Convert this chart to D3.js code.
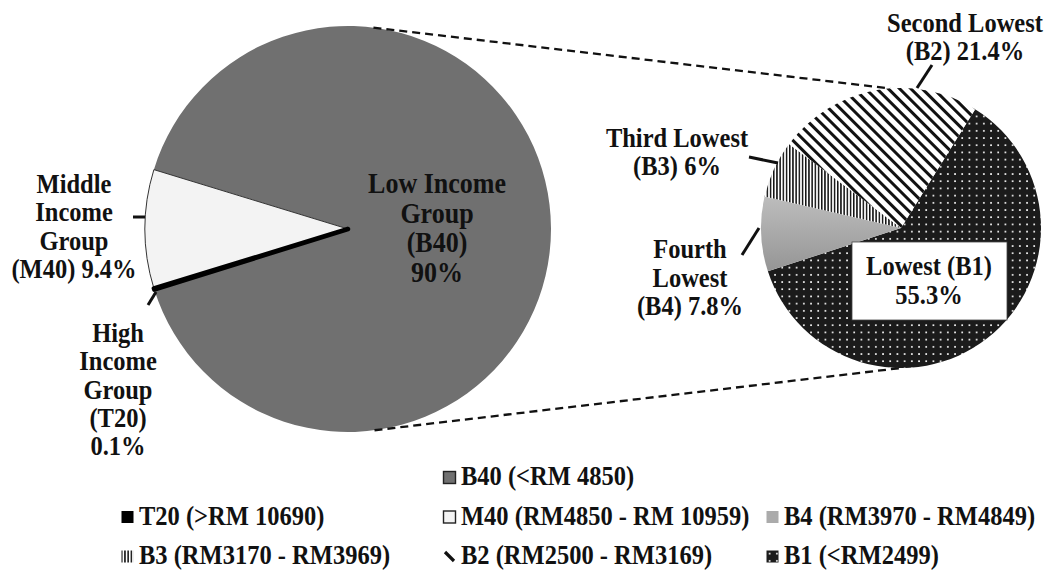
<!DOCTYPE html>
<html><head><meta charset="utf-8">
<script src="https://cdn.jsdelivr.net/npm/d3@7"></script>
<style>
body{margin:0;background:#fff}
svg{display:block}
text{font-family:"Liberation Serif","Times New Roman",serif;font-weight:bold;fill:#111;font-size:24.5px}
</style>
</head><body><svg id="c" width="1049" height="570"></svg>
<script>
// ---------- data ----------
const mainCategories = ["B40", "T20", "M40"];
const mainValues = [90, 0.1, 9.4];
const mainLabels = [["Low Income", "Group", "(B40)", "90%"],
                    ["High", "Income", "Group", "(T20)", "0.1%"],
                    ["Middle", "Income", "Group", "(M40) 9.4%"]];
const subCategories = ["B1", "B4", "B3", "B2"];
const subValues = [55.3, 7.8, 6, 21.4];
const subLabels = [["Lowest (B1)", "55.3%"],
                   ["Fourth", "Lowest", "(B4) 7.8%"],
                   ["Third Lowest", "(B3) 6%"],
                   ["Second Lowest", "(B2) 21.4%"]];
const legendKeys = ["B40", "T20", "M40", "B4", "B3", "B2", "B1"];
const legendTexts = ["B40 (<RM 4850)", "T20 (>RM 10690)", "M40 (RM4850 - RM 10959)",
                     "B4 (RM3970 - RM4849)", "B3 (RM3170 - RM3969)", "B2 (RM2500 - RM3169)", "B1 (<RM2499)"];

// ---------- layout ----------
const svg = d3.select("#c");
const deg = Math.PI / 180;
const L = {cx: 348, cy: 229, r: 203};
const R = {cx: 901, cy: 228, r: 140};

const defs = svg.append("defs");
const p1 = defs.append("pattern").attr("id", "pB1").attr("patternUnits", "userSpaceOnUse")
  .attr("width", 7.2).attr("height", 7.2);
p1.append("rect").attr("width", 7.2).attr("height", 7.2).attr("fill", "#1b1b1b");
p1.append("rect").attr("x", 2.8).attr("y", 2.8).attr("width", 1.7).attr("height", 1.7).attr("fill", "#f4f4f4");
const p2 = defs.append("pattern").attr("id", "pB2").attr("patternUnits", "userSpaceOnUse")
  .attr("width", 8).attr("height", 8).attr("patternTransform", "rotate(-45)");
p2.append("rect").attr("width", 8).attr("height", 8).attr("fill", "#fff");
p2.append("rect").attr("width", 3).attr("height", 8).attr("fill", "#111");
const p3 = defs.append("pattern").attr("id", "pB3").attr("patternUnits", "userSpaceOnUse")
  .attr("width", 3.2).attr("height", 10);
p3.append("rect").attr("width", 3.2).attr("height", 10).attr("fill", "#fff");
p3.append("rect").attr("width", 1.5).attr("height", 10).attr("fill", "#111");
const gr = defs.append("linearGradient").attr("id", "gB4").attr("x1", 0).attr("y1", 0).attr("x2", 0).attr("y2", 1);
gr.append("stop").attr("offset", "0%").attr("stop-color", "#bdbdbd");
gr.append("stop").attr("offset", "100%").attr("stop-color", "#959595");

const fills = {B40: "#707070", T20: "#000", M40: "#f3f3f3", B1: "url(#pB1)", B2: "url(#pB2)", B3: "url(#pB3)", B4: "url(#gB4)"};

// ---------- main pie ----------
const mainSum = d3.sum(mainValues);
const m40Ang = 2 * Math.PI * mainValues[2] / mainSum;
const mStart = -Math.PI / 2 + m40Ang / 2;
const mainPie = d3.pie().sort(null).value(d => d.v).startAngle(mStart).endAngle(mStart + 2 * Math.PI);
const mainArcs = mainPie(mainCategories.map((c, i) => ({c, v: mainValues[i]})));
const arcL = d3.arc().innerRadius(0).outerRadius(L.r);
const gL = svg.append("g").attr("transform", `translate(${L.cx},${L.cy})`);
gL.selectAll("path").data(mainArcs).join("path")
  .attr("d", arcL)
  .attr("fill", d => fills[d.data.c])
  .attr("stroke", d => d.data.c === "T20" ? "#000" : d.data.c === "M40" ? "#333" : "none")
  .attr("stroke-width", d => d.data.c === "T20" ? 4.5 : 1)
  .attr("stroke-linejoin", "round");
gL.selectAll("path").filter(d => d.data.c === "T20").raise();

// ---------- sub pie ----------
const sStart = 32 * deg;
const subPie = d3.pie().sort(null).value(d => d.v).startAngle(sStart).endAngle(sStart + 2 * Math.PI);
const subArcs = subPie(subCategories.map((c, i) => ({c, v: subValues[i]})));
const arcR = d3.arc().innerRadius(0).outerRadius(R.r);
const gR = svg.append("g").attr("transform", `translate(${R.cx},${R.cy})`);
gR.selectAll("path").data(subArcs).join("path")
  .attr("d", arcR)
  .attr("fill", d => fills[d.data.c]);

// ---------- connector dashed lines ----------
function pt(c, a) { return [c.cx + c.r * Math.sin(a), c.cy - c.r * Math.cos(a)]; }
const conns = [[pt(L, 7.2 * deg), pt(R, -4.5 * deg)], [pt(L, 172.5 * deg), pt(R, 180 * deg)]];
svg.selectAll("line.conn").data(conns).join("line").attr("class", "conn")
  .attr("x1", d => d[0][0]).attr("y1", d => d[0][1]).attr("x2", d => d[1][0]).attr("y2", d => d[1][1])
  .attr("stroke", "#111").attr("stroke-width", 2.3).attr("stroke-dasharray", "8,5");

// ---------- labels ----------
function multi(lines, x, y0, lh, size) {
  lines.forEach((t, i) => {
    svg.append("text").attr("transform", `translate(${x},${y0 + i * lh}) scale(1,1.1)`)
      .attr("text-anchor", "middle").style("font-size", size ? size + "px" : null).text(t);
  });
}
function leader(x1, y1, x2, y2) {
  svg.append("line").attr("x1", x1).attr("y1", y1).attr("x2", x2).attr("y2", y2)
    .attr("stroke", "#111").attr("stroke-width", 3);
}
// main pie labels (offsets from pie centre)
multi(mainLabels[0], L.cx + 89, L.cy - 36, 29.7, 26);
multi(mainLabels[2], L.cx - 274, L.cy - 36, 28.4);
multi(mainLabels[1], L.cx - 230, L.cy + 113, 28.3);
leader(L.cx - 215, L.cy - 12, L.cx - 203, L.cy - 12);
leader(L.cx - 200, L.cy + 76, L.cx - 192, L.cy + 63);

// sub pie labels
svg.append("rect").attr("x", R.cx - 49).attr("y", R.cy + 14).attr("width", 155).attr("height", 78)
  .attr("fill", "#fff").attr("stroke", "#444").attr("stroke-width", 0.8);
multi(subLabels[0], R.cx + 28, R.cy + 47, 29);
multi(subLabels[3], R.cx + 64, 32, 27.5);
multi(subLabels[2], R.cx - 224, 147, 28);
multi(subLabels[1], R.cx - 211, 258, 28.5);
leader(R.cx + 31, 65, R.cx + 16, 88);
leader(R.cx - 152, 157, R.cx - 123, 163);
leader(R.cx - 159, 255, R.cx - 142, 228);

// ---------- legend ----------
const legRow = {B40: 0, T20: 1, M40: 1, B4: 1, B3: 2, B2: 2, B1: 2};
const legCol = {B40: 1, T20: 0, M40: 1, B4: 2, B3: 0, B2: 1, B1: 2};
const colX = d3.scaleOrdinal().domain([0, 1, 2]).range([121, 443, 766]);
const rowY = d3.scaleLinear().domain([0, 2]).range([485, 564]);
const lg = svg.append("g");
legendKeys.forEach((k, i) => {
  const x = colX(legCol[k]), y = rowY(legRow[k]);
  const sw = lg.append("g").attr("transform", `translate(${x},${y - 14})`);
  if (k === "B2") {
    sw.append("line").attr("x1", 2).attr("y1", 2).attr("x2", 11).attr("y2", 11)
      .attr("stroke", "#111").attr("stroke-width", 3.2);
  } else {
    sw.append("rect").attr("x", 0.5).attr("y", 0.5).attr("width", 12).attr("height", 12)
      .attr("fill", fills[k] === "url(#gB4)" ? "#ababab" : fills[k])
      .attr("stroke", (k === "B40" || k === "M40") ? "#222" : "none").attr("stroke-width", 1.4);
  }
  lg.append("text").attr("transform", `translate(${x + 18},${y}) scale(1,1.1)`).text(legendTexts[i]);
});
</script>
</body></html>
